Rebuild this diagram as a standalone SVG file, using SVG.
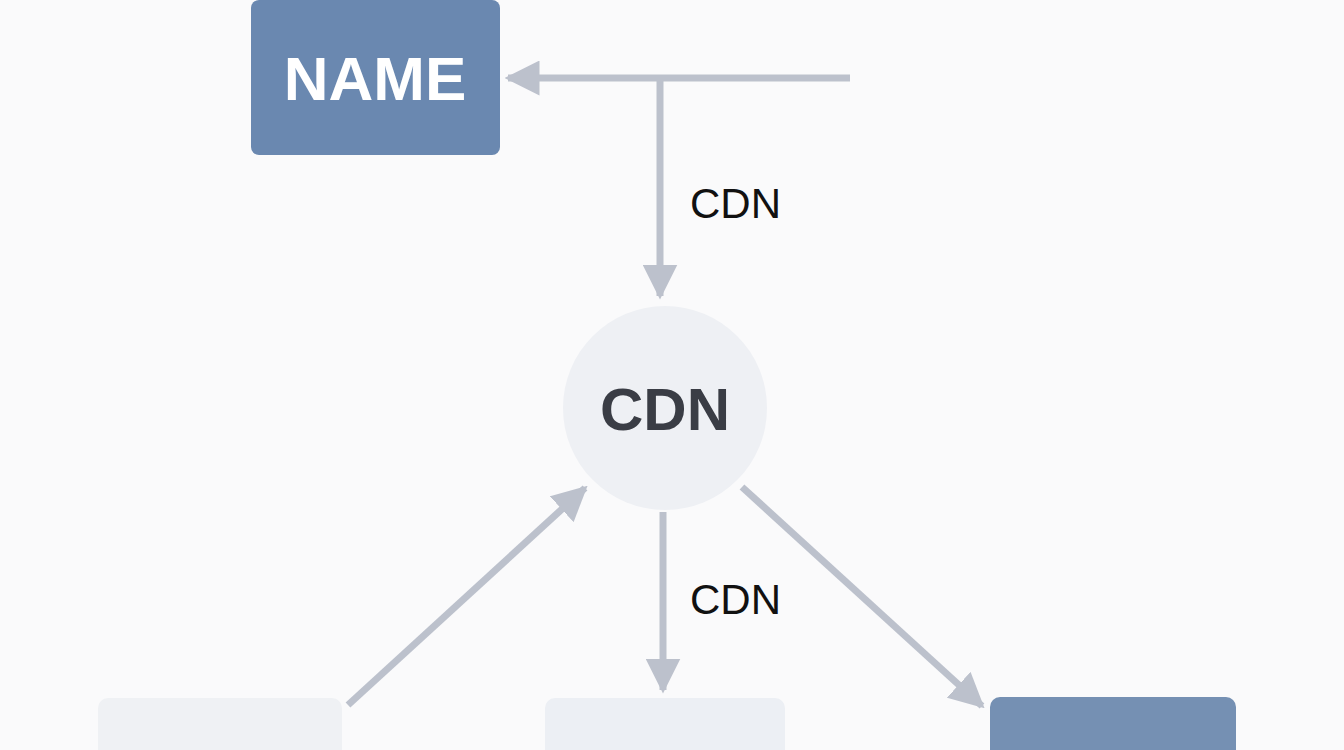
<svg xmlns="http://www.w3.org/2000/svg" width="1344" height="750" viewBox="0 0 1344 750">
<style>
.ln{stroke:#bcc1cc;stroke-width:7;fill:none}
.lbl{font-family:"Liberation Sans",Arial,sans-serif;font-size:42px;fill:#111}
</style>
<defs>
<marker id="ah" viewBox="0 0 10 10" refX="9" refY="5" markerWidth="5" markerHeight="5" markerUnits="strokeWidth" orient="auto"><path d="M0,0 L10,5 L0,10 z" fill="#bcc1cc"/></marker>
</defs>
<rect width="1344" height="750" fill="#fafafb"/>
<g id="connectors">
<line class="ln" x1="850" y1="78" x2="508" y2="78" marker-end="url(#ah)"/>
<line class="ln" x1="660" y1="78" x2="660" y2="296" marker-end="url(#ah)"/>
<line class="ln" x1="348" y1="705" x2="585" y2="488" marker-end="url(#ah)"/>
<line class="ln" x1="663" y1="512" x2="663" y2="690" marker-end="url(#ah)"/>
<line class="ln" x1="742" y1="487" x2="982" y2="706" marker-end="url(#ah)"/>
<text class="lbl" x="690" y="218">CDN</text>
<text class="lbl" x="690" y="614">CDN</text>
</g>
<g id="name"><rect x="251" y="0" width="249" height="155" rx="8" fill="#6a88b0"/>
<text x="375" y="100" text-anchor="middle" font-family="Liberation Sans,Arial,sans-serif" font-weight="bold" font-size="62" fill="#fff">NAME</text></g>
<g id="cdn"><circle cx="665" cy="408" r="102" fill="#eef0f4"/>
<text x="665" y="430" text-anchor="middle" font-family="Liberation Sans,Arial,sans-serif" font-weight="bold" font-size="60" fill="#3a3d45">CDN</text></g>
<g id="b1"><rect x="98" y="698" width="244" height="70" rx="10" fill="#eff1f4"/></g>
<g id="b2"><rect x="545" y="698" width="240" height="70" rx="10" fill="#eceff4"/></g>
<g id="b3"><rect x="990" y="697" width="246" height="70" rx="10" fill="#7590b3"/></g>
</svg>
